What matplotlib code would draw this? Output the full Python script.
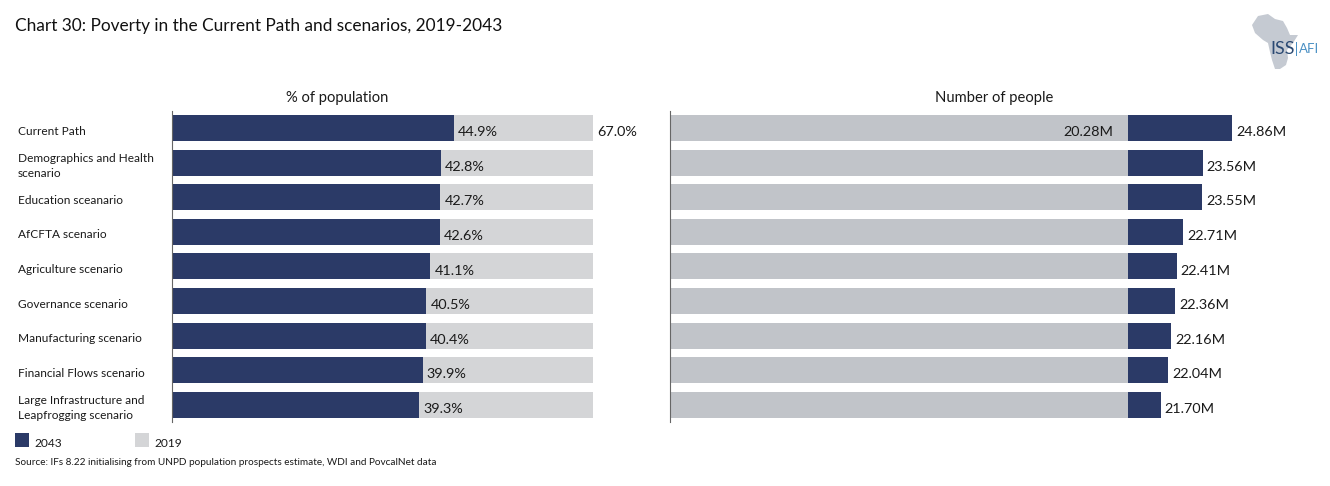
import matplotlib
matplotlib.use("Agg")
import matplotlib.pyplot as plt
from matplotlib.patches import Polygon, Rectangle
from matplotlib.transforms import blended_transform_factory

plt.rcParams["font.family"] = ["Lato", "DejaVu Sans"]

W, H = 1330, 486
NAVY = "#2B3A67"
GREY_L = "#D4D5D7"
GREY_R = "#C1C4C9"
TXT = "#1a1a1a"

scenarios = ["Current Path", "Demographics and Health\nscenario", "Education sceanario",
             "AfCFTA scenario", "Agriculture scenario", "Governance scenario",
             "Manufacturing scenario", "Financial Flows scenario",
             "Large Infrastructure and\nLeapfrogging scenario"]
pct_2043 = [44.9, 42.8, 42.7, 42.6, 41.1, 40.5, 40.4, 39.9, 39.3]
pct_2019 = [67.0] * 9
num_2043 = [24.86, 23.56, 23.55, 22.71, 22.41, 22.36, 22.16, 22.04, 21.70]
num_2019 = [20.28] * 9

# africa outline for the logo, pixels
africa = [(1252, 25), (1258, 16), (1268, 14), (1275, 19), (1283, 21), (1287, 28),
          (1290, 35), (1298, 35), (1293, 43), (1287, 50), (1288, 58), (1286, 65),
          (1280, 69), (1275, 69), (1272, 60), (1270, 52), (1268, 43), (1263, 40),
          (1255, 33)]


def rect(x0, x1, y0, y1):
    return [x0 / W, 1 - y1 / H, (x1 - x0) / W, (y1 - y0) / H]


def fx(x):
    return x / W


def fy(y):
    return 1 - y / H


fig = plt.figure(figsize=(W / 100, H / 100), dpi=100)
ypos = list(range(len(scenarios)))
ylim = (8.497, -0.491)

ax1 = fig.add_axes(rect(172, 593, 111, 422))
ax1.barh(ypos, pct_2019, height=0.75, color=GREY_L)
ax1.barh(ypos, pct_2043, height=0.75, color=NAVY)
ax1.set_xlim(0, 67)
ax1.set_ylim(*ylim)

ax2 = fig.add_axes(rect(670, 1232, 111, 422))
ax2.barh(ypos, num_2043, height=0.75, color=NAVY)
ax2.barh(ypos, num_2019, height=0.75, color=GREY_R)
ax2.set_xlim(0, 24.86)
ax2.set_ylim(*ylim)

for ax in (ax1, ax2):
    for s in ("top", "right", "bottom"):
        ax.spines[s].set_visible(False)
    ax.spines["left"].set_color("#666666")
    ax.spines["left"].set_linewidth(0.8)
    ax.set_xticks([])
    ax.set_yticks([])
    ax.patch.set_alpha(0)

lab_fs = 10.4
for i, (a, b) in enumerate(zip(pct_2043, num_2043)):
    ax1.annotate(f"{a:.1f}%", (a, i), xytext=(3, -3), textcoords="offset points",
                 va="center", fontsize=lab_fs, color=TXT)
    ax2.annotate(f"{b:.2f}M", (b, i), xytext=(3, -3), textcoords="offset points",
                 va="center", fontsize=lab_fs, color=TXT)
ax1.annotate(f"{pct_2019[0]:.1f}%", (pct_2019[0], 0), xytext=(3, -3), textcoords="offset points",
             va="center", fontsize=lab_fs, color=TXT, annotation_clip=False)
ax2.annotate(f"{num_2019[0]:.2f}M", (num_2019[0], 0), xytext=(-11, -3), textcoords="offset points",
             va="center", ha="right", fontsize=lab_fs, color=TXT)

# category names sit in figure x, data y, nudged down a little
trans = blended_transform_factory(fig.transFigure, ax1.transData)
for i, name in enumerate(scenarios):
    fig.text(fx(18), i + 0.09, name, transform=trans, va="center", ha="left",
             fontsize=8.6, color=TXT, linespacing=1.4)

fig.text(fx(15), fy(26), "Chart 30: Poverty in the Current Path and scenarios, 2019-2043",
         fontsize=12.4, va="center", color="#111111")
fig.text(fx(337), fy(98), "% of population", fontsize=10.6, ha="center", va="center", color=TXT)
fig.text(fx(994), fy(98), "Number of people", fontsize=10.6, ha="center", va="center", color=TXT)

# legend
fig.add_artist(Rectangle((fx(15), fy(447)), 14 / W, 14 / H, transform=fig.transFigure, color=NAVY, lw=0))
fig.add_artist(Rectangle((fx(135), fy(447)), 14 / W, 14 / H, transform=fig.transFigure, color=GREY_L, lw=0))
fig.text(fx(34), fy(443), "2043", fontsize=8.6, va="center", color=TXT)
fig.text(fx(154), fy(443), "2019", fontsize=8.6, va="center", color=TXT)
fig.text(fx(15), fy(462), "Source: IFs 8.22 initialising from UNPD population prospects estimate, WDI and PovcalNet data",
         fontsize=7.2, va="center", color=TXT)

# logo
fig.add_artist(Polygon([(fx(x), fy(y)) for x, y in africa], transform=fig.transFigure,
                       closed=True, color="#C5CAD2", lw=0))
fig.text(fx(1270), fy(49), "ISS", fontsize=13, va="center", color="#2B4A73")
fig.add_artist(Rectangle((fx(1295.5), fy(56)), 1 / W, 14 / H, transform=fig.transFigure, color="#4A90C4", lw=0))
fig.text(fx(1299), fy(49), "AFI", fontsize=9.5, va="center", color="#4A90C4")

fig.savefig("out.png", dpi=100)
